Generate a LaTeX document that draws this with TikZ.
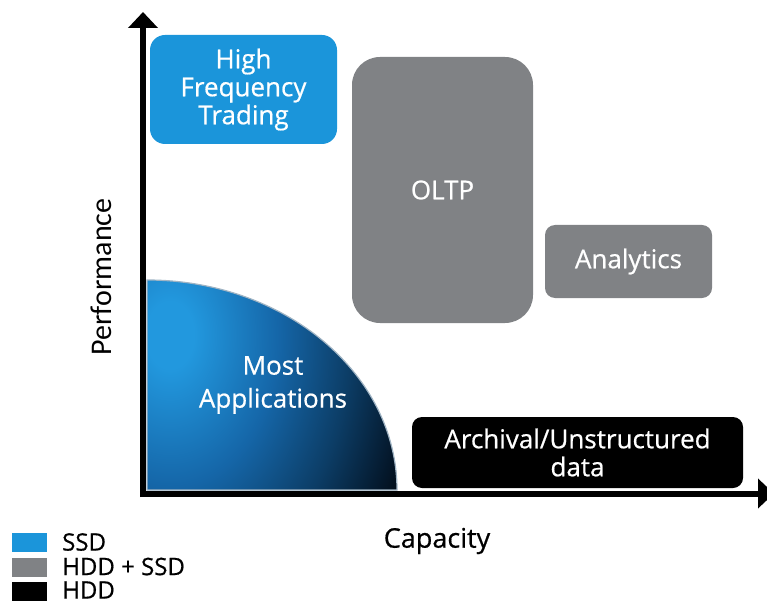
\documentclass[tikz,border=0pt]{standalone}
\usepackage{fontspec}
\setmainfont{Open Sans}[FakeBold=0.6]
\newfontfamily\perffont{Carlito}
\usetikzlibrary{arrows.meta}
\definecolor{ssdblue}{HTML}{1B95DA}
\definecolor{hybgray}{HTML}{808285}
\definecolor{qa}{HTML}{2298DE}
\definecolor{qb}{HTML}{1566A8}
\definecolor{qc}{HTML}{0C3D66}
\definecolor{qd}{HTML}{04172A}
\definecolor{qedge}{HTML}{A0B4C4}
\pgfdeclareradialshading{mostrad}{\pgfpoint{0bp}{0bp}}{color(0bp)=(qa); color(2bp)=(qa); color(9bp)=(qb); color(15bp)=(qc); color(19.8bp)=(qd); color(23bp)=(black); color(50bp)=(black)}
\tikzset{
  boxtext/.style={text=white, font=\fontsize{26}{28}\selectfont, align=center, inner sep=0pt},
  ssdbox/.style={boxtext, fill=ssdblue},
  hybbox/.style={boxtext, fill=hybgray},
  hddbox/.style={boxtext, fill=black},
  axis/.style={line width=5.5pt, -{Triangle[length=16pt,width=29pt]}},
  legsq/.style={minimum width=35pt, minimum height=19pt, inner sep=0pt},
  legtext/.style={anchor=west, inner sep=0pt, font=\fontsize{24}{24}\selectfont},
}
\begin{document}
\begin{tikzpicture}[x=1pt,y=1pt]
\useasboundingbox (0,0) rectangle (767,603);
% quarter ellipse "Most Applications"
\begin{scope}
\clip (147,113) -- (397,113) arc[start angle=0, end angle=90, x radius=250, y radius=210] -- cycle;
\shade[shading=mostrad] (170,268) ellipse[x radius=300, y radius=420];
\end{scope}
\draw[draw=qedge, line width=1.2pt]
  (147,113) -- (397,113) arc[start angle=0, end angle=90, x radius=250, y radius=210] -- cycle;
\node[boxtext, font=\fontsize{26}{33}\selectfont] (most) at (273,218) {Most\\Applications};
% boxes
\node[ssdbox, rounded corners=15pt, minimum width=187pt, minimum height=109pt] (hft) at (243.5,513.5) {High\\Frequency\\Trading};
\node[hybbox, rounded corners=28pt, minimum width=181pt, minimum height=266pt] (oltp) at (442.5,413) {OLTP};
\node[hybbox, rounded corners=10pt, minimum width=167pt, minimum height=73pt] (analytics) at (628.5,341.5) {Analytics};
\node[hddbox, rounded corners=10pt, minimum width=331pt, minimum height=71pt] (arch) at (577.5,150.5) {Archival/Unstructured\\data};
% axes
\coordinate (origin) at (143,106);
\coordinate (ytip) at (143,591);
\coordinate (xstart) at (140,109.5);
\coordinate (xtip) at (774,109.5);
\draw[axis] (origin) -- (ytip);
\draw[axis, line width=6pt] (xstart) -- (xtip);
% axis labels
\node[rotate=90, inner sep=0pt, font=\perffont\fontsize{30}{30}\selectfont] (perf) at (101,326) {Performance};
\node[inner sep=0pt, font=\fontsize{27}{27}\selectfont] (cap) at (437,62) {Capacity};
% legend
\node[legsq, fill=ssdblue] (lssd) at (29.5,60.5) {};
\node[legsq, fill=hybgray] (lhyb) at (29.5,35.5) {};
\node[legsq, fill=black] (lhdd) at (29.5,11.5) {};
\node[legtext] (tssd) at (62,61) {SSD};
\node[legtext] (thyb) at (62,36.5) {HDD + SSD};
\node[legtext] (thdd) at (62,13) {HDD};
\end{tikzpicture}
\end{document}
